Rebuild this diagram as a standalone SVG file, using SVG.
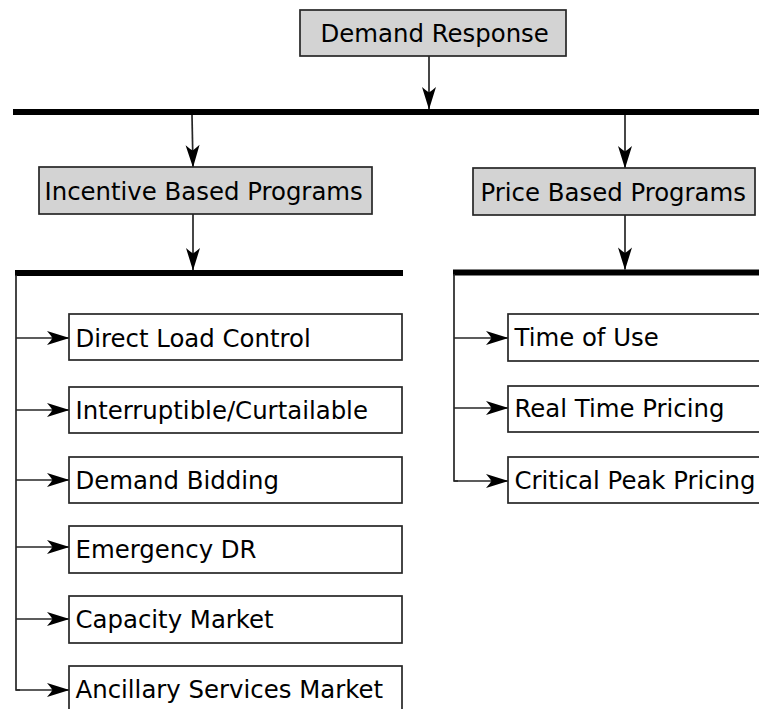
<svg xmlns="http://www.w3.org/2000/svg" width="759" height="709" viewBox="0 0 759 709">
  <style>
    .head rect { fill: #d3d3d3; stroke: #262626; stroke-width: 1.7; }
    .item rect { fill: #ffffff; stroke: #262626; stroke-width: 1.7; }
    text { font-family: "DejaVu Sans", "Liberation Sans", sans-serif; font-size: 24.4px; fill: #000; }
    .bus { fill: #000; }
    .wire { fill: none; stroke: #262626; stroke-width: 1.7; }
    .arrow { fill: none; stroke: #262626; stroke-width: 1.7; marker-end: url(#barb); }
  </style>
  <defs>
    <marker id="barb" markerUnits="userSpaceOnUse" markerWidth="26" markerHeight="18" viewBox="-24 -9 26 18" refX="0" refY="0" orient="auto">
      <path d="M0.5,0 L-22,-7 Q-18,-2.5 -16.5,0 Q-18,2.5 -22,7 Z" fill="#000"/>
    </marker>
  </defs>

  <rect width="759" height="709" fill="#ffffff"/>

  <!-- distribution bars -->
  <g id="bars">
    <rect class="bus" x="13" y="109" width="746" height="6"/>
    <rect class="bus" x="15" y="270" width="388" height="6"/>
    <rect class="bus" x="453" y="269.5" width="306" height="6"/>
  </g>

  <!-- connectors -->
  <g id="connectors">
    <line class="arrow" x1="429" y1="56" x2="429" y2="109"/>
    <line class="arrow" x1="192" y1="115" x2="193" y2="167"/>
    <line class="arrow" x1="625" y1="115" x2="625" y2="168"/>
    <line class="arrow" x1="193" y1="214" x2="193" y2="270"/>
    <line class="arrow" x1="625" y1="215" x2="625" y2="269.5"/>

    <polyline class="wire" points="16,275 16,690 20,690"/>
    <line class="arrow" x1="16" y1="338" x2="69" y2="338"/>
    <line class="arrow" x1="16" y1="410" x2="69" y2="410"/>
    <line class="arrow" x1="16" y1="480" x2="69" y2="480"/>
    <line class="arrow" x1="16" y1="547" x2="69" y2="547"/>
    <line class="arrow" x1="16" y1="619" x2="69" y2="619"/>
    <line class="arrow" x1="16" y1="690" x2="69" y2="690"/>

    <polyline class="wire" points="454,274 454,481 458,481"/>
    <line class="arrow" x1="454" y1="338" x2="508" y2="338"/>
    <line class="arrow" x1="454" y1="408" x2="508" y2="408"/>
    <line class="arrow" x1="454" y1="481" x2="508" y2="481"/>
  </g>

  <!-- headings -->
  <g id="demand-response" class="head">
    <rect x="300" y="10" width="266" height="46"/>
    <text x="320.5" y="42">Demand Response</text>
  </g>
  <g id="incentive-based" class="head">
    <rect x="39" y="167" width="333" height="47"/>
    <text x="44.5" y="200">Incentive Based Programs</text>
  </g>
  <g id="price-based" class="head">
    <rect x="473" y="168" width="282" height="47"/>
    <text x="480.5" y="201">Price Based Programs</text>
  </g>

  <!-- incentive based items -->
  <g id="direct-load-control" class="item">
    <rect x="69" y="314" width="333" height="46"/>
    <text x="75.5" y="347">Direct Load Control</text>
  </g>
  <g id="interruptible" class="item">
    <rect x="69" y="387" width="333" height="46"/>
    <text x="75.5" y="419">Interruptible/Curtailable</text>
  </g>
  <g id="demand-bidding" class="item">
    <rect x="69" y="457" width="333" height="46"/>
    <text x="75.5" y="489">Demand Bidding</text>
  </g>
  <g id="emergency-dr" class="item">
    <rect x="69" y="526" width="333" height="47"/>
    <text x="75.5" y="558">Emergency DR</text>
  </g>
  <g id="capacity-market" class="item">
    <rect x="69" y="596" width="333" height="47"/>
    <text x="75.5" y="628">Capacity Market</text>
  </g>
  <g id="ancillary-services" class="item">
    <rect x="69" y="666" width="333" height="60"/>
    <text x="75.5" y="698">Ancillary Services Market</text>
  </g>

  <!-- price based items -->
  <g id="time-of-use" class="item">
    <rect x="508" y="314" width="270" height="47"/>
    <text x="514.5" y="346">Time of Use</text>
  </g>
  <g id="real-time-pricing" class="item">
    <rect x="508" y="386" width="270" height="46"/>
    <text x="514.5" y="417">Real Time Pricing</text>
  </g>
  <g id="critical-peak-pricing" class="item">
    <rect x="508" y="457" width="270" height="46"/>
    <text x="514.5" y="489">Critical Peak Pricing</text>
  </g>
</svg>
